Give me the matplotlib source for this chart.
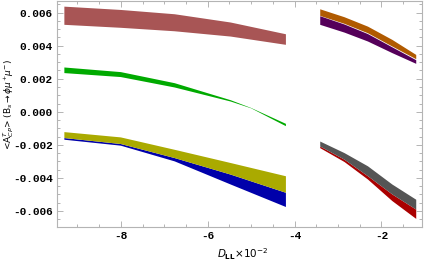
import matplotlib
matplotlib.use("Agg")
import matplotlib.pyplot as plt
from matplotlib.ticker import MultipleLocator, FormatStrFormatter

# Left segment (x from -9.3 to -4.2)
x_left = [-9.3, -8.0, -6.76, -5.47, -4.2]
brown_hi = [0.00636, 0.00616, 0.00590, 0.00540, 0.00469]
brown_lo = [0.00526, 0.00508, 0.00487, 0.00455, 0.00405]
yellow_hi = [-0.00123, -0.00155, -0.00230, -0.00310, -0.00390]
yellow_lo = [-0.00159, -0.00195, -0.00280, -0.00380, -0.00490]
blue_lo = [-0.00169, -0.00205, -0.00300, -0.00440, -0.00576]

x_green = [-9.3, -8.0, -6.76, -5.47, -5.0, -4.2]
green_hi = [0.00268, 0.00240, 0.00173, 0.00070, 0.00023, -0.00073]
green_lo = [0.00234, 0.00210, 0.00147, 0.00062, 0.00021, -0.00087]

# Right segment (x from -3.41 to -1.2)
x_right = [-3.41, -2.85, -2.31, -1.75, -1.2]
orange_hi = [0.00620, 0.00572, 0.00515, 0.00435, 0.00344]
orange_lo = [0.00580, 0.00532, 0.00475, 0.00395, 0.00318]
purple_hi = [0.00578, 0.00528, 0.00470, 0.00390, 0.00312]
purple_lo = [0.00526, 0.00479, 0.00425, 0.00355, 0.00290]
gray_hi = [-0.00180, -0.00250, -0.00330, -0.00440, -0.00532]
gray_lo = [-0.00210, -0.00290, -0.00390, -0.00500, -0.00592]
red_lo = [-0.00220, -0.00304, -0.00410, -0.00540, -0.00648]

x_ticks = [-8, -6, -4, -2]
y_ticks = [-0.006, -0.004, -0.002, 0.000, 0.002, 0.004, 0.006]

fig = plt.figure(figsize=(4.24, 2.62), dpi=100)
ax = fig.add_axes([0.1344, 0.1336, 0.8606, 0.8625])

kw = dict(linewidth=0, edgecolor='none')
ax.fill_between(x_left, brown_lo, brown_hi, color='#A85555', **kw)
ax.fill_between(x_green, green_lo, green_hi, color='#00AA00', **kw)
ax.fill_between(x_left, yellow_lo, blue_lo, color='#0000AA', **kw)
ax.fill_between(x_left, yellow_lo, yellow_hi, color='#AAAA00', **kw)
ax.fill_between(x_right, orange_lo, orange_hi, color='#B05A00', **kw)
ax.fill_between(x_right, purple_lo, purple_hi, color='#55005A', **kw)
ax.fill_between(x_right, gray_lo, red_lo, color='#AA0000', **kw)
ax.fill_between(x_right, gray_lo, gray_hi, color='#555555', **kw)

ax.set_xlim(-9.47, -1.07)
ax.set_ylim(-0.00697, 0.0067)

ax.set_xticks(x_ticks)
ax.set_yticks(y_ticks)
ax.xaxis.set_minor_locator(MultipleLocator(0.5))
ax.yaxis.set_minor_locator(MultipleLocator(0.0005))
ax.yaxis.set_major_formatter(FormatStrFormatter('%.3f'))
ax.xaxis.set_major_formatter(FormatStrFormatter('%d'))

fc = '#B4B4B4'
for s in ax.spines.values():
    s.set_color(fc)
    s.set_linewidth(0.8)
ax.tick_params(which='both', direction='in', top=True, right=True, color=fc, width=0.7)
ax.tick_params(which='major', length=4, pad=3)
ax.tick_params(which='minor', length=2)
for lab in ax.get_xticklabels() + ax.get_yticklabels():
    lab.set_fontfamily('Liberation Mono')
    lab.set_fontweight('bold')
    lab.set_fontsize(8)

ax.set_xlabel(r'$D_{\mathbf{LL}}$$\times$10$^{-2}$', fontsize=7.5)
ax.xaxis.set_label_coords(0.51, -0.085)
ax.set_ylabel(r'<A$^{T}_{CP}$> (B$_s$$\rightarrow\phi\mu^{+}\mu^{-}$)', fontsize=6.5)
ax.yaxis.set_label_coords(-0.113, 0.54)

fig.savefig('out.png', dpi=100)
